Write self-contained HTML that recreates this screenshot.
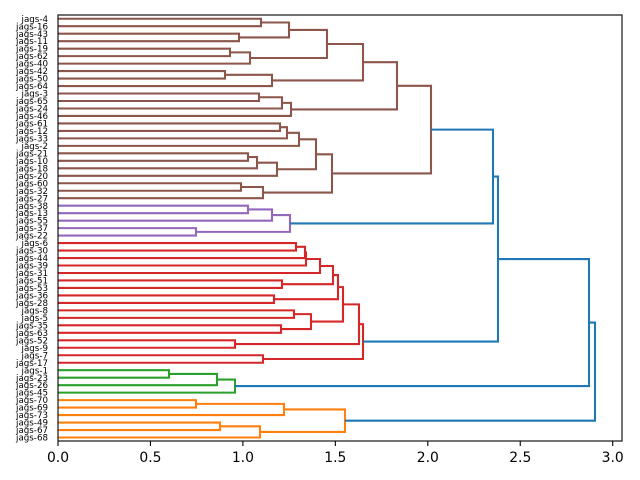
<!DOCTYPE html>
<html><head><meta charset="utf-8"><style>
html,body{margin:0;padding:0;background:#fff;}
svg{display:block;}
text{font-family:"DejaVu Sans","Liberation Sans",sans-serif;}
</style></head><body>
<svg width="640" height="480" viewBox="0 0 640 480" xmlns="http://www.w3.org/2000/svg">
<rect x="0" y="0" width="640" height="480" fill="#fff"/>
<g fill="none" stroke-width="2.08" stroke-linejoin="miter" stroke-linecap="butt">
<g stroke="#8c564b">
<path d="M58 18.74H261V26.22H58"/>
<path d="M58 33.7H239V41.17H58"/>
<path d="M261 22.48H289V37.44H239"/>
<path d="M58 48.65H230V56.13H58"/>
<path d="M230 52.39H250V63.61H58"/>
<path d="M289 29.96H327V58H250"/>
<path d="M58 71.09H225V78.56H58"/>
<path d="M225 74.83H272V86.04H58"/>
<path d="M327 43.98H363V80.43H272"/>
<path d="M58 93.52H259V101H58"/>
<path d="M259 97.26H282V108.48H58"/>
<path d="M282 102.87H291V115.95H58"/>
<path d="M363 62.2H397V109.41H291"/>
<path d="M58 123.43H280V130.91H58"/>
<path d="M280 127.17H287V138.39H58"/>
<path d="M287 132.78H299V145.87H58"/>
<path d="M58 153.34H248V160.82H58"/>
<path d="M248 157.08H257V168.3H58"/>
<path d="M257 162.69H277V175.78H58"/>
<path d="M299 139.32H316V169.23H277"/>
<path d="M58 183.26H241V190.73H58"/>
<path d="M241 187H263V198.21H58"/>
<path d="M316 154.28H332V192.6H263"/>
<path d="M397 85.8H431V173.44H332"/>
</g>
<g stroke="#9467bd">
<path d="M58 205.69H248V213.17H58"/>
<path d="M248 209.43H272V220.65H58"/>
<path d="M58 228.12H196V235.6H58"/>
<path d="M272 215.04H290V231.86H196"/>
</g>
<g stroke="#d62728">
<path d="M58 243.08H296V250.56H58"/>
<path d="M296 246.82H305V258.04H58"/>
<path d="M305 252.43H306V265.52H58"/>
<path d="M306 258.98H320V272.99H58"/>
<path d="M58 280.47H282V287.95H58"/>
<path d="M320 265.98H333V284.21H282"/>
<path d="M58 295.43H274V302.91H58"/>
<path d="M333 275.1H338V299.17H274"/>
<path d="M58 310.38H294V317.86H58"/>
<path d="M58 325.34H281V332.82H58"/>
<path d="M294 314.12H311V329.08H281"/>
<path d="M338 287.13H343V321.6H311"/>
<path d="M58 340.3H235V347.77H58"/>
<path d="M343 304.37H359V344.04H235"/>
<path d="M58 355.25H263V362.73H58"/>
<path d="M359 324.2H363V358.99H263"/>
</g>
<g stroke="#2ca02c">
<path d="M58 370.21H169V377.69H58"/>
<path d="M169 373.95H217V385.17H58"/>
<path d="M217 379.56H235V392.64H58"/>
</g>
<g stroke="#ff7f0e">
<path d="M58 400.12H196V407.6H58"/>
<path d="M196 403.86H284V415.08H58"/>
<path d="M58 422.56H220V430.03H58"/>
<path d="M220 426.3H260V437.51H58"/>
<path d="M284 409.47H345V431.9H260"/>
</g>
<g stroke="#1f77b4">
<path d="M431 129.62H493V223.45H290"/>
<path d="M493 176.54H498V341.6H363"/>
<path d="M498 259.07H589V386.1H235"/>
<path d="M589 322.59H595V420.69H345"/>
</g>
</g>
<rect x="58" y="15" width="564" height="426" fill="none" stroke="#000" stroke-width="1.1"/>
<g stroke="#000" stroke-width="1.1">
<line x1="58" y1="441" x2="58" y2="446"/>
<line x1="150.45" y1="441" x2="150.45" y2="446"/>
<line x1="242.9" y1="441" x2="242.9" y2="446"/>
<line x1="335.35" y1="441" x2="335.35" y2="446"/>
<line x1="427.8" y1="441" x2="427.8" y2="446"/>
<line x1="520.25" y1="441" x2="520.25" y2="446"/>
<line x1="612.7" y1="441" x2="612.7" y2="446"/>
</g>
<g font-size="13.9" text-anchor="middle" fill="#000">
<text x="58" y="462">0.0</text>
<text x="150.45" y="462">0.5</text>
<text x="242.9" y="462">1.0</text>
<text x="335.35" y="462">1.5</text>
<text x="427.8" y="462">2.0</text>
<text x="520.25" y="462">2.5</text>
<text x="612.7" y="462">3.0</text>
</g>
<g font-size="8.7" text-anchor="end" fill="#000">
<text x="48" y="21.8">jags-4</text>
<text x="48" y="29.3">jags-16</text>
<text x="48" y="36.8">jags-43</text>
<text x="48" y="44.2">jags-11</text>
<text x="48" y="51.7">jags-19</text>
<text x="48" y="59.2">jags-62</text>
<text x="48" y="66.7">jags-40</text>
<text x="48" y="74.2">jags-42</text>
<text x="48" y="81.6">jags-50</text>
<text x="48" y="89.1">jags-64</text>
<text x="48" y="96.6">jags-3</text>
<text x="48" y="104.1">jags-65</text>
<text x="48" y="111.6">jags-24</text>
<text x="48" y="119.0">jags-46</text>
<text x="48" y="126.5">jags-61</text>
<text x="48" y="134.0">jags-12</text>
<text x="48" y="141.5">jags-33</text>
<text x="48" y="148.9">jags-2</text>
<text x="48" y="156.4">jags-21</text>
<text x="48" y="163.9">jags-10</text>
<text x="48" y="171.4">jags-18</text>
<text x="48" y="178.9">jags-20</text>
<text x="48" y="186.3">jags-60</text>
<text x="48" y="193.8">jags-32</text>
<text x="48" y="201.3">jags-27</text>
<text x="48" y="208.8">jags-38</text>
<text x="48" y="216.2">jags-13</text>
<text x="48" y="223.7">jags-55</text>
<text x="48" y="231.2">jags-37</text>
<text x="48" y="238.7">jags-22</text>
<text x="48" y="246.2">jags-6</text>
<text x="48" y="253.6">jags-30</text>
<text x="48" y="261.1">jags-44</text>
<text x="48" y="268.6">jags-39</text>
<text x="48" y="276.1">jags-31</text>
<text x="48" y="283.5">jags-51</text>
<text x="48" y="291.0">jags-53</text>
<text x="48" y="298.5">jags-36</text>
<text x="48" y="306.0">jags-28</text>
<text x="48" y="313.5">jags-8</text>
<text x="48" y="320.9">jags-5</text>
<text x="48" y="328.4">jags-35</text>
<text x="48" y="335.9">jags-63</text>
<text x="48" y="343.4">jags-52</text>
<text x="48" y="350.8">jags-9</text>
<text x="48" y="358.3">jags-7</text>
<text x="48" y="365.8">jags-17</text>
<text x="48" y="373.3">jags-1</text>
<text x="48" y="380.8">jags-23</text>
<text x="48" y="388.2">jags-26</text>
<text x="48" y="395.7">jags-45</text>
<text x="48" y="403.2">jags-70</text>
<text x="48" y="410.7">jags-69</text>
<text x="48" y="418.1">jags-73</text>
<text x="48" y="425.6">jags-49</text>
<text x="48" y="433.1">jags-67</text>
<text x="48" y="440.6">jags-68</text>
</g>
</svg>
</body></html>
